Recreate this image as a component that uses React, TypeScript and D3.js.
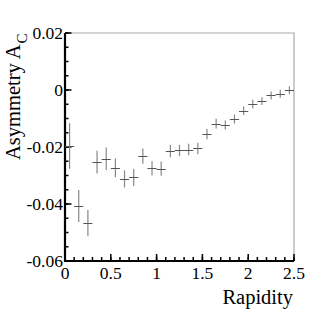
import * as d3 from "d3";
import { useEffect, useRef } from "react";

// bin centres in rapidity (bin width 0.1)
const rapidity = [
  0.05, 0.15, 0.25, 0.35, 0.45, 0.55, 0.65, 0.75, 0.85, 0.95,
  1.05, 1.15, 1.25, 1.35, 1.45, 1.55, 1.65, 1.75, 1.85, 1.95,
  2.05, 2.15, 2.25, 2.35, 2.45,
];
const asymmetry = [
  -0.0196, -0.0407, -0.0467, -0.0253, -0.0242, -0.0273, -0.0312, -0.0307, -0.0232, -0.0275,
  -0.0276, -0.0214, -0.0212, -0.0209, -0.0205, -0.0155, -0.0118, -0.0123, -0.0102, -0.0073,
  -0.0049, -0.0039, -0.0019, -0.0013, -0.0001,
];
const asymErr = [
  0.008, 0.0056, 0.0046, 0.004, 0.004, 0.0033, 0.003, 0.003, 0.0027, 0.0025,
  0.0025, 0.0022, 0.002, 0.002, 0.002, 0.0018, 0.0017, 0.0016, 0.0016, 0.0015,
  0.0015, 0.0014, 0.0014, 0.0014, 0.0014,
];
const binHalfWidth = 0.05;
const xTicks = [0, 0.5, 1, 1.5, 2, 2.5];
const xTickLabels = ["0", "0.5", "1", "1.5", "2", "2.5"];
const yTicks = [-0.06, -0.04, -0.02, 0, 0.02];
const yTickLabels = ["-0.06", "-0.04", "-0.02", "0", "0.02"];

export default function App() {
  const ref = useRef<SVGSVGElement>(null);

  useEffect(() => {
    const width = 327;
    const height = 328;
    const margin = { top: 33, right: 33, bottom: 67, left: 65 };
    const font = "Liberation Serif";

    const svg = d3.select(ref.current);
    svg.selectAll("*").remove();

    const x = d3.scaleLinear()
      .domain([0, 2.5])
      .range([margin.left, width - margin.right]);

    const y = d3.scaleLinear()
      .domain([-0.06, 0.02])
      .range([height - margin.bottom, margin.top]);

    // frame (top and right)
    svg.append("path")
      .attr("d", `M${x(0)},${y(0.02)}H${x(2.5)}V${y(-0.06)}`)
      .attr("fill", "none")
      .attr("stroke", "#aaa")
      .attr("stroke-width", 1.2);

    // ticks, pointing inside
    const xMinor = d3.range(0, 2.5001, 0.1);
    svg.append("g").selectAll("line")
      .data(xMinor)
      .join("line")
      .attr("x1", d => x(d)).attr("x2", d => x(d))
      .attr("y1", y(-0.06)).attr("y2", y(-0.06) - 4)
      .attr("stroke", "#000").attr("stroke-width", 1.5);
    svg.append("g").selectAll("line")
      .data(xTicks)
      .join("line")
      .attr("x1", d => x(d)).attr("x2", d => x(d))
      .attr("y1", y(-0.06)).attr("y2", y(-0.06) - 7)
      .attr("stroke", "#000").attr("stroke-width", 1.5);

    const yMinor = d3.range(-0.06, 0.02001, 0.005);
    svg.append("g").selectAll("line")
      .data(yMinor)
      .join("line")
      .attr("x1", x(0)).attr("x2", x(0) + 3.5)
      .attr("y1", d => y(d)).attr("y2", d => y(d))
      .attr("stroke", "#000").attr("stroke-width", 1.5);
    svg.append("g").selectAll("line")
      .data(yTicks)
      .join("line")
      .attr("x1", x(0)).attr("x2", x(0) + 6.5)
      .attr("y1", d => y(d)).attr("y2", d => y(d))
      .attr("stroke", "#000").attr("stroke-width", 1.5);

    // axis lines
    svg.append("path")
      .attr("d", `M${x(0)},${y(0.02)}V${y(-0.06)}H${x(2.5)}`)
      .attr("fill", "none")
      .attr("stroke", "#000")
      .attr("stroke-width", 2.2);

    // tick labels
    svg.append("g").selectAll("text")
      .data(xTicks)
      .join("text")
      .attr("x", d => x(d))
      .attr("y", y(-0.06) + 18)
      .attr("text-anchor", "middle")
      .attr("font-family", font)
      .attr("font-size", 17.5)
      .text((d, i) => xTickLabels[i]);

    svg.append("g").selectAll("text")
      .data(yTicks)
      .join("text")
      .attr("x", x(0) - 2)
      .attr("y", d => y(d) + 6)
      .attr("text-anchor", "end")
      .attr("font-family", font)
      .attr("font-size", 17.5)
      .text((d, i) => yTickLabels[i]);

    // axis titles
    svg.append("text")
      .attr("x", x(2.5) - 1)
      .attr("y", 304)
      .attr("text-anchor", "end")
      .attr("font-family", font)
      .attr("font-size", 20.5)
      .text("Rapidity");

    const yl = svg.append("text")
      .attr("transform", "translate(20, 160) rotate(-90)")
      .attr("font-family", font)
      .attr("font-size", 20.5);
    yl.append("tspan").text("Asymmetry A");
    yl.append("tspan")
      .attr("font-size", 15)
      .attr("dx", 1)
      .attr("dy", 7)
      .text("C");

    // data points with error bars
    const g = svg.append("g");
    rapidity.forEach((r, i) => {
      const cy = y(asymmetry[i]);
      g.append("line")
        .attr("x1", x(r)).attr("x2", x(r))
        .attr("y1", y(asymmetry[i] - asymErr[i]))
        .attr("y2", y(asymmetry[i] + asymErr[i]))
        .attr("stroke", "#888").attr("stroke-width", 1.2);
      g.append("line")
        .attr("x1", x(r - binHalfWidth)).attr("x2", x(r + binHalfWidth))
        .attr("y1", Math.round(cy) + 0.5).attr("y2", Math.round(cy) + 0.5)
        .attr("stroke", "#555").attr("stroke-width", 1);
    });
  }, []);

  return (
    <svg
      ref={ref}
      width={327}
      height={328}
      style={{ position: "absolute", left: 0, top: 0, background: "#fff" }}
    />
  );
}
